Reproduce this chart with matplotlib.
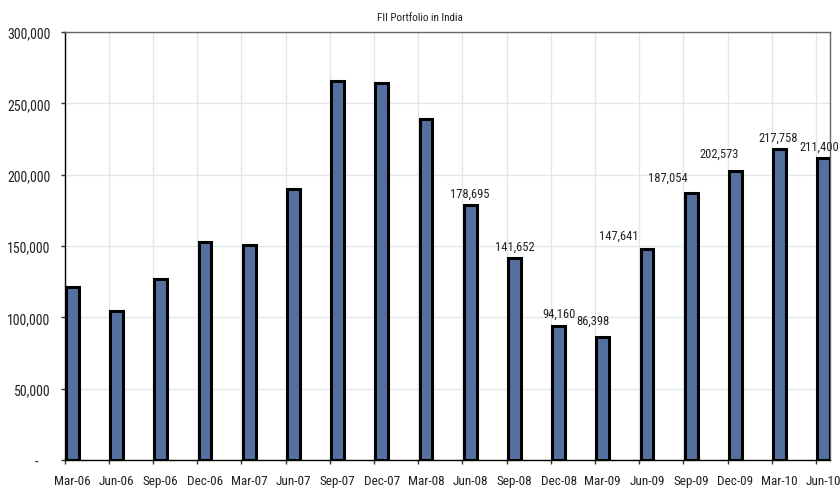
"""FII portfolio in India, quarterly bar chart."""
import matplotlib

matplotlib.use("Agg")
import matplotlib.pyplot as plt
import numpy as np
from matplotlib.ticker import FuncFormatter, MultipleLocator

quarters = [
    "Mar-06", "Jun-06", "Sep-06", "Dec-06", "Mar-07", "Jun-07", "Sep-07", "Dec-07", "Mar-08",
    "Jun-08", "Sep-08", "Dec-08", "Mar-09", "Jun-09", "Sep-09", "Dec-09", "Mar-10", "Jun-10",
]
portfolio = [
    121500, 104700, 126600, 153000, 150900, 190000, 266000, 264300, 239000,
    178695, 141652, 94160, 86398, 147641, 187054, 202573, 217758, 211400,
]
labelled = [False] * 9 + [True] * 9

# hand-placed label nudges (pixels): horizontal shift, gap above bar top
label_dx = [0, 0, 0, 0, 0, 0, 0, 0, 0, 0, 0, 0, -10, -28, -23, -16, -1, -4]
label_gap = [8, 8, 8, 8, 8, 8, 8, 8, 8, 8, 8, 9, 13, 11, 12, 14, 9, 9]

plt.rcParams["font.family"] = ["Roboto Condensed", "DejaVu Sans"]

fig = plt.figure(figsize=(8.4, 4.89), dpi=100)
ax = fig.add_axes([0.0768, 0.0573, 0.9114, 0.8752])

x = np.arange(len(quarters))
px = 1 / 44.19  # one pixel in category units
bar_w = 0.288
ax.bar(x + 1.5 * px, portfolio, width=bar_w, align="edge",
       color="#55709F", edgecolor="black", linewidth=2.2, zorder=3)

ax.set_xlim(0, 17.32)
ax.set_ylim(0, 300000)

# tick marks and vertical grid at the category boundaries
ax.set_xticks(x, minor=True)
ax.tick_params(axis="x", which="minor", direction="out", length=3, width=1, color="#333333")
ax.set_xticks(x + 1.5 * px + bar_w / 2, quarters)
ax.tick_params(axis="x", which="major", length=0, pad=10, labelsize=9.5, labelcolor="#222222")

ax.yaxis.set_major_locator(MultipleLocator(50000))
ax.yaxis.set_major_formatter(FuncFormatter(lambda v, _: "-" if v == 0 else f"{v:,.0f}"))
ax.tick_params(axis="y", direction="out", length=3, width=1, color="#333333", pad=7,
               labelsize=10, labelcolor="#222222")

ax.grid(True, axis="y", which="major", color="#e3e7e7", linewidth=1, zorder=0)
ax.grid(True, axis="x", which="minor", color="#e3e7e7", linewidth=1, zorder=0)
ax.set_axisbelow(True)

for side in ("left", "bottom"):
    ax.spines[side].set_color("black")
    ax.spines[side].set_linewidth(1)
for side in ("top", "right"):
    ax.spines[side].set_color("#666666")
    ax.spines[side].set_linewidth(1)

# zero label sits further left in the original
fig.canvas.draw()
for tick in ax.get_yticklabels():
    if tick.get_text() == "-":
        tick.set_x(-12 / 765.5)

for i, (val, show) in enumerate(zip(portfolio, labelled)):
    if not show:
        continue
    ax.annotate(f"{val:,}", xy=(i + 1.5 * px + bar_w / 2, val),
                xytext=(label_dx[i] * 0.72, label_gap[i] * 0.72), textcoords="offset points",
                ha="center", va="baseline", fontsize=9, color="#222222",
                annotation_clip=False, zorder=4)

fig.text(0.5, 1 - 21 / 489, "FII Portfolio in India", ha="center", va="baseline",
         fontsize=8, color="#222222")

fig.savefig("out.png", dpi=100)
